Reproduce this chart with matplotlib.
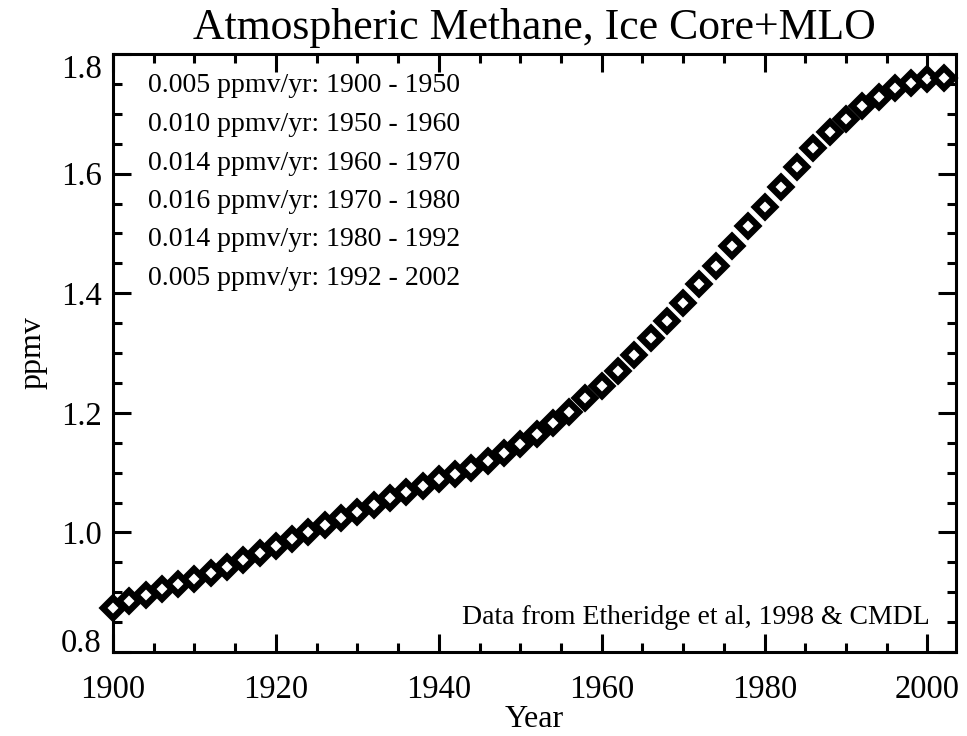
import matplotlib
matplotlib.use("Agg")
import matplotlib.pyplot as plt
from matplotlib.ticker import MultipleLocator, FormatStrFormatter

years = list(range(1900, 2004, 2))
methane = [0.873, 0.885, 0.895, 0.905, 0.914, 0.922, 0.932, 0.942, 0.954, 0.966,
           0.977, 0.989, 1.000, 1.012, 1.024, 1.034, 1.046, 1.058, 1.068, 1.078,
           1.089, 1.098, 1.108, 1.119, 1.133, 1.148, 1.165, 1.183, 1.201, 1.225,
           1.245, 1.270, 1.297, 1.325, 1.354, 1.384, 1.415, 1.446, 1.479, 1.512,
           1.544, 1.578, 1.611, 1.643, 1.670, 1.691, 1.713, 1.728, 1.743, 1.751,
           1.758, 1.760]

rate_lines = ["0.005 ppmv/yr: 1900 - 1950",
              "0.010 ppmv/yr: 1950 - 1960",
              "0.014 ppmv/yr: 1960 - 1970",
              "0.016 ppmv/yr: 1970 - 1980",
              "0.014 ppmv/yr: 1980 - 1992",
              "0.005 ppmv/yr: 1992 - 2002"]

title = "Atmospheric Methane, Ice Core+MLO"
credit = "Data from Etheridge et al, 1998 & CMDL"

plt.rcParams['font.family'] = ['Liberation Serif', 'DejaVu Serif']

fig = plt.figure(figsize=(9.67, 7.36), dpi=100)
ax = fig.add_axes([113/967, 1-652/736, (956-113)/967, (652-54)/736])

ax.plot(years, methane, linestyle='none', marker='D', markersize=10,
        markerfacecolor='white', markeredgecolor='black', markeredgewidth=4.6,
        clip_on=False, zorder=3)

ax.set_xlim(1900, 2003.5)
ax.set_ylim(0.8, 1.8)
ax.xaxis.set_major_locator(MultipleLocator(20))
ax.xaxis.set_minor_locator(MultipleLocator(5))
ax.yaxis.set_major_locator(MultipleLocator(0.2))
ax.yaxis.set_minor_locator(MultipleLocator(0.05))
ax.yaxis.set_major_formatter(FormatStrFormatter('%.1f'))

ax.tick_params(which='both', direction='in', top=True, right=True, width=2.2, color='black')
ax.tick_params(which='major', length=13, labelsize=23.5)
ax.tick_params(axis='x', which='major', pad=16)
ax.tick_params(axis='y', which='major', pad=8)
ax.tick_params(which='minor', length=6.5)
for s in ax.spines.values():
    s.set_linewidth(2.2)

ax.set_title(title, fontsize=31.5, pad=11)
ax.set_xlabel("Year", fontsize=23, labelpad=0)
ax.set_ylabel("ppmv", fontsize=23, labelpad=10)

for i, line in enumerate(rate_lines):
    yfig = 736 - (86 + i*38.5)
    ax.text(148/967, yfig/736, line, transform=fig.transFigure, fontsize=20,
            va='center', ha='left')
ax.text(930/967, 1-617/736, credit, transform=fig.transFigure, fontsize=20,
        va='center', ha='right')

# IDL-style end labels: keep them inside the axis extent
fig.canvas.draw()
yticks = ax.yaxis.get_major_ticks()
ylocs = ax.yaxis.get_majorticklocs()
for tk, loc in zip(yticks, ylocs):
    if abs(loc - 0.8) < 1e-6:
        tk.label1.set_va('baseline')
    elif abs(loc - 1.8) < 1e-6:
        tk.label1.set_va('top')

fig.savefig("out.png", dpi=100)
